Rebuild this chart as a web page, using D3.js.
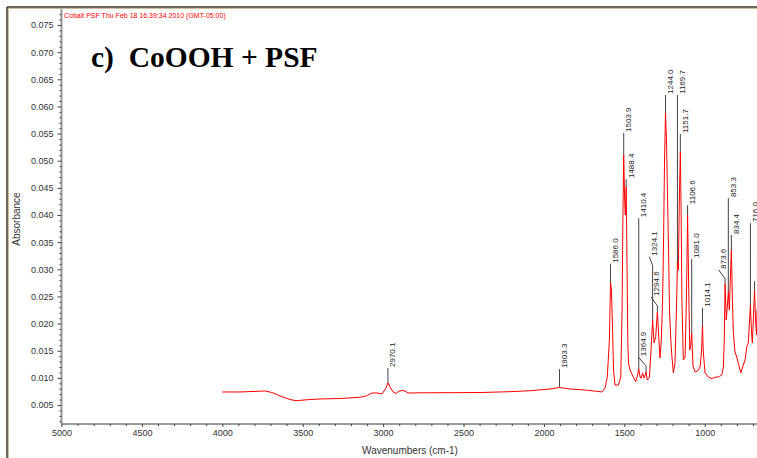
<!DOCTYPE html>
<html lang="en">
<head>
<meta charset="UTF-8">
<title>CoOOH + PSF</title>
<script src="https://d3js.org/d3.v7.min.js"></script>
<style>
    body { margin: 0; background: #fff; }
    svg { display: block; font-family: "Liberation Sans", Arial, sans-serif; }
    .tick text { fill: #333; font-size: 9px; }
    .tick line { stroke: #444; }
    .peak line, .peak path { stroke: #444; fill: none; }
</style>
</head>
<body>
<script>

    var width = 757,
        height = 458;

    // spectrum (cm-1, absorbance)
    var wavenumbers = [4000, 3890, 3734, 3691, 3641, 3579, 3542, 3455, 3392, 3268, 3144, 3106, 3069, 3038, 3007,
        2982, 2970.1, 2957, 2938, 2920, 2901, 2870, 2845, 2770, 2584, 2397, 2211, 2086, 1962, 1903.3, 1838, 1744,
        1663, 1639, 1620, 1606, 1593, 1586.0, 1580, 1573, 1567, 1558, 1537, 1522, 1514, 1509, 1503.9, 1498, 1494,
        1488.4, 1483, 1478, 1474, 1465, 1444, 1429, 1418, 1410.4, 1402, 1396, 1386, 1377, 1364.9, 1357, 1344, 1334,
        1324.1, 1315, 1305, 1294.6, 1286, 1278, 1270, 1262, 1256, 1250, 1244.0, 1238, 1231, 1225, 1219, 1211, 1205,
        1195, 1185, 1175, 1169.7, 1164, 1158, 1151.7, 1147, 1142, 1133, 1122, 1114, 1106.6, 1100, 1093, 1087, 1081.0,
        1073, 1060, 1045, 1029, 1020, 1014.1, 1009, 998, 978, 961, 946, 930, 915, 894, 884, 878, 873.6, 866, 859,
        853.3, 847, 841, 834.4, 828, 822, 812, 801, 785, 776, 760, 749, 739, 729, 723, 716.0, 710, 704, 698, 690.2,
        684, 678, 675];
    var absorbance = [0.0074, 0.0074, 0.00758, 0.0073, 0.00666, 0.00601, 0.00579, 0.00601, 0.00611, 0.0062, 0.00642,
        0.00666, 0.00721, 0.00721, 0.00703, 0.00813, 0.00911, 0.00832, 0.0074, 0.00712, 0.00758, 0.00767, 0.00721,
        0.00725, 0.00727, 0.0073, 0.00745, 0.00763, 0.00795, 0.00822, 0.00795, 0.00776, 0.00749, 0.0074, 0.00813,
        0.01016, 0.01698, 0.02766, 0.02619, 0.01882, 0.01145, 0.00868, 0.00868, 0.01016, 0.0225, 0.0391, 0.05106,
        0.04277, 0.0400, 0.04516, 0.02987, 0.01605, 0.01274, 0.01145, 0.01016, 0.00929, 0.01053, 0.01163, 0.01016,
        0.00992, 0.01084, 0.00997, 0.01108, 0.0096, 0.01016, 0.01513, 0.02066, 0.01642, 0.01758, 0.02213, 0.01758,
        0.01366, 0.01698, 0.02434, 0.0354, 0.05014, 0.0588, 0.05382, 0.04277, 0.03356, 0.0225, 0.01698, 0.01421,
        0.0109, 0.01274, 0.02379, 0.03134, 0.02987, 0.04277, 0.05161, 0.04093, 0.02434, 0.01329, 0.01384, 0.02434,
        0.0400, 0.02711, 0.01513, 0.01605, 0.01826, 0.01218, 0.01108, 0.01126, 0.012, 0.01476, 0.01974, 0.01476,
        0.0109, 0.01016, 0.00988, 0.00997, 0.01016, 0.01016, 0.01053, 0.012, 0.01771, 0.02729, 0.02066, 0.02342,
        0.02582, 0.0225, 0.0280, 0.03356, 0.02434, 0.01826, 0.01476, 0.01384, 0.012, 0.0109, 0.01237, 0.01329,
        0.01569, 0.01642, 0.01974, 0.02342, 0.01882, 0.01642, 0.02066, 0.0262, 0.02066, 0.0179, 0.0225];

    // peak labels: where the peak is, where its label sits
    var peakWn    = [2970.1, 1903.3, 1586.0, 1503.9, 1488.4, 1410.4, 1364.9, 1324.1, 1294.6, 1244.0, 1169.7, 1151.7,
        1106.6, 1081.0, 1014.1, 873.6, 853.3, 834.4, 716.0, 690.2];
    var peakText  = ["2970.1", "1903.3", "1586.0", "1503.9", "1488.4", "1410.4", "1364.9", "1324.1", "1294.6", "1244.0",
        "1169.7", "1151.7", "1106.6", "1081.0", "1014.1", "873.6", "853.3", "834.4", "716.0", "690.2"];
    var peakAbs   = [0.00911, 0.00822, 0.02766, 0.05106, 0.04516, 0.01163, 0.01108, 0.02066, 0.02213, 0.0588, 0.03134,
        0.05161, 0.0400, 0.01826, 0.01974, 0.02729, 0.02582, 0.03356, 0.02342, 0.0262];
    var labelAbs  = [0.0120, 0.0118, 0.0312, 0.0553, 0.0468, 0.0396, 0.0140, 0.0325, 0.0251, 0.0623, 0.0623, 0.0551,
        0.0420, 0.0321, 0.0231, 0.0301, 0.0433, 0.0365, 0.0387, 0.0280];
    var labelWn   = [2970.1, 1903.3, 1586.0, 1503.9, 1488.4, 1410.4, 1412, 1344.5, 1334, 1244.0, 1169.7, 1151.7,
        1106.6, 1081.0, 1014.1, 914, 853.3, 834.4, 716.0, 690.2];

    var xMajor = d3.range(5000, 999, -500);
    var xMinor = d3.range(4900, 699, -100).filter(function(d) { return d % 500 !== 0; });
    var yMajor = d3.range(1, 16).map(function(i) { return i * 0.005; });
    var yMinor = d3.range(2, 78).filter(function(i) { return i % 5 !== 0; }).map(function(i) { return i / 1000; });

    var plotLeft = 61.5, plotRight = 757, plotTop = 9, plotBottom = 424;

    var x = d3.scaleLinear().domain([5000, 675]).range([plotLeft, plotRight]);
    var y = d3.scaleLinear().domain([0.0015, 0.07795]).range([plotBottom, plotTop]);

    var svg = d3.select("body").append("svg")
        .attr("width", width)
        .attr("height", height);

    // outer frame
    svg.append("line").attr("x1", 7).attr("x2", width).attr("y1", 7).attr("y2", 7)
        .attr("stroke", "#3f3522").attr("stroke-width", 1.5);
    svg.append("line").attr("x1", 8).attr("x2", width).attr("y1", 8.5).attr("y2", 8.5)
        .attr("stroke", "#c9bf9f").attr("stroke-width", 1);
    svg.append("line").attr("x1", 7).attr("x2", 7).attr("y1", 7).attr("y2", height)
        .attr("stroke", "#3f3522").attr("stroke-width", 1.5);
    svg.append("line").attr("x1", 8.5).attr("x2", 8.5).attr("y1", 8).attr("y2", height)
        .attr("stroke", "#c9bf9f").attr("stroke-width", 1);

    svg.append("clipPath").attr("id", "plot")
        .append("rect").attr("x", plotLeft).attr("y", plotTop)
        .attr("width", plotRight - plotLeft).attr("height", plotBottom - plotTop);

    // axes
    var gy = svg.append("g").attr("transform", "translate(" + plotLeft + ",0)");
    gy.append("line").attr("y1", plotTop).attr("y2", plotBottom).attr("stroke", "#9a9a9a").attr("stroke-width", 2);
    gy.append("g")
        .call(d3.axisLeft(y).tickValues(yMinor).tickSize(2).tickFormat(""))
        .call(function(g) { g.select(".domain").remove(); });
    gy.append("g")
        .call(d3.axisLeft(y).tickValues(yMajor).tickSize(4).tickPadding(4).tickFormat(d3.format(".3f")))
        .call(function(g) { g.select(".domain").remove(); });

    var gx = svg.append("g").attr("transform", "translate(0," + plotBottom + ")");
    gx.append("line").attr("x1", plotLeft).attr("x2", plotRight).attr("stroke", "#9a9a9a").attr("stroke-width", 2);
    gx.append("g")
        .call(d3.axisBottom(x).tickValues(xMinor).tickSize(2).tickFormat(""))
        .call(function(g) { g.select(".domain").remove(); });
    gx.append("g")
        .call(d3.axisBottom(x).tickValues(xMajor).tickSize(3).tickPadding(3).tickFormat(d3.format("d")))
        .call(function(g) { g.select(".domain").remove(); });

    svg.append("text")
        .attr("transform", "translate(20,219) rotate(-90)")
        .attr("text-anchor", "middle")
        .attr("font-size", 10)
        .attr("fill", "#333")
        .text("Absorbance");

    svg.append("text")
        .attr("x", 410).attr("y", 454)
        .attr("text-anchor", "middle")
        .attr("font-size", 10)
        .attr("fill", "#333")
        .text("Wavenumbers (cm-1)");

    // header and title
    svg.append("text")
        .attr("x", 64).attr("y", 17.5)
        .attr("font-size", 7)
        .attr("fill", "#ff0000")
        .text("Cobalt PSF Thu Feb 18 16:39:34 2010 (GMT-05:00)");

    svg.append("text")
        .attr("x", 91).attr("y", 66.5)
        .attr("font-family", "'Liberation Serif', 'DejaVu Serif', serif")
        .attr("font-weight", "bold")
        .attr("font-size", 29.5)
        .attr("fill", "#000")
        .style("white-space", "pre")
        .text("c)  CoOOH + PSF");

    // spectrum
    var spectrum = wavenumbers.map(function(w, i) { return [w, absorbance[i]]; });

    var line = d3.line()
        .x(function(d) { return x(d[0]); })
        .y(function(d) { return y(d[1]); });

    var plot = svg.append("g").attr("clip-path", "url(#plot)");

    // peak labels
    var peaks = peakWn.map(function(w, i) {
        return {wn: w, text: peakText[i], a: peakAbs[i], la: labelAbs[i], lw: labelWn[i]};
    });

    var pk = plot.selectAll(".peak")
        .data(peaks)
        .enter().append("g")
        .attr("class", "peak");

    pk.append("path")
        .attr("stroke-width", 1)
        .attr("d", function(d) {
            var px = x(d.wn), py = y(d.a), ty = y(d.la) + 1;
            if (d.lw === d.wn) return "M" + px + "," + py + "V" + ty;
            var kink = ty + 9;
            return "M" + px + "," + py + "V" + kink + "L" + x(d.lw) + "," + ty;
        });

    pk.append("text")
        .attr("transform", function(d) { return "translate(" + (x(d.lw) + 7.5) + "," + y(d.la) + ") rotate(-90)"; })
        .attr("font-size", 8)
        .attr("fill", "#222")
        .text(function(d) { return d.text; });

    plot.append("path")
        .datum(spectrum)
        .attr("fill", "none")
        .attr("stroke", "#ff0000")
        .attr("stroke-width", 1)
        .attr("d", line);

</script>
</body>
</html>
